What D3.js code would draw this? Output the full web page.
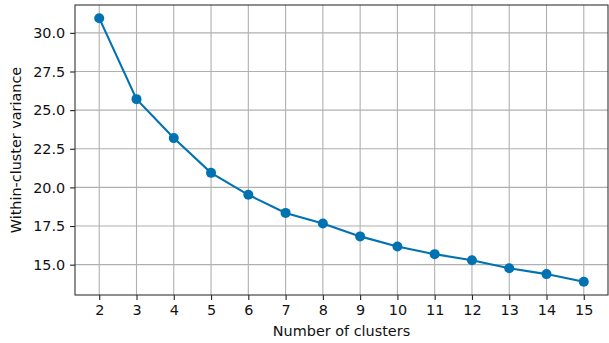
<!DOCTYPE html>
<html>
<head>
<meta charset="utf-8">
<script src="https://cdn.jsdelivr.net/npm/d3@7"></script>
<style>
  body { margin: 0; background: #fff; }
  svg { display: block; font-family: "DejaVu Sans", sans-serif; }
</style>
</head>
<body>
<svg id="chart" width="609" height="343"></svg>
<script>
// data
const clusters = [2, 3, 4, 5, 6, 7, 8, 9, 10, 11, 12, 13, 14, 15];
const variance = [30.95, 25.71, 23.19, 20.94, 19.52, 18.35, 17.66, 16.83, 16.18, 15.68, 15.29, 14.77, 14.39, 13.89];
const yTicks = [15.0, 17.5, 20.0, 22.5, 25.0, 27.5, 30.0];

const margin = { top: 5, right: 1, bottom: 48, left: 75 };
const svg = d3.select('#chart');
const width = +svg.attr('width') - margin.left - margin.right;
const height = +svg.attr('height') - margin.top - margin.bottom;
const color = '#0072b2';
const fontSize = '14.4px';

// matplotlib-style 5% margins
const xPad = (d3.max(clusters) - d3.min(clusters)) * 0.05;
const [yMin, yMax] = d3.extent(variance);
const yPad = (yMax - yMin) * 0.05;
const x = d3.scaleLinear().domain([d3.min(clusters) - xPad, d3.max(clusters) + xPad]).range([0, width]);
const y = d3.scaleLinear().domain([yMin - yPad, yMax + yPad]).range([height, 0]);

const g = svg.append('g').attr('transform', `translate(${margin.left}, ${margin.top})`);

// grid
g.append('g').selectAll('line').data(clusters).enter().append('line')
  .attr('x1', d => x(d)).attr('x2', d => x(d))
  .attr('y1', 0).attr('y2', height)
  .attr('stroke', '#b0b0b0').attr('stroke-width', 1.1);
g.append('g').selectAll('line').data(yTicks).enter().append('line')
  .attr('x1', 0).attr('x2', width)
  .attr('y1', d => y(d)).attr('y2', d => y(d))
  .attr('stroke', '#b0b0b0').attr('stroke-width', 1.1);

// axes
const xAxis = g.append('g')
  .attr('transform', `translate(0, ${height})`)
  .call(d3.axisBottom(x).tickValues(clusters).tickFormat(d3.format('d')).tickSize(4.9).tickPadding(4.9));
const yAxis = g.append('g')
  .call(d3.axisLeft(y).tickValues(yTicks).tickFormat(d3.format('.1f')).tickSize(4.9).tickPadding(4.9));
[xAxis, yAxis].forEach(a => {
  a.select('.domain').remove();
  a.selectAll('.tick line').attr('stroke', '#222').attr('stroke-width', 1.1);
  a.selectAll('.tick text').attr('fill', '#111').style('font-size', fontSize).style('font-family', '"DejaVu Sans", sans-serif');
});

// line + markers
g.append('path')
  .datum(clusters.map((c, i) => [c, variance[i]]))
  .attr('fill', 'none')
  .attr('stroke', color)
  .attr('stroke-width', 2.1)
  .attr('d', d3.line().x(d => x(d[0])).y(d => y(d[1])));
g.append('g').selectAll('circle').data(clusters).enter().append('circle')
  .attr('cx', d => x(d))
  .attr('cy', (d, i) => y(variance[i]))
  .attr('r', 5)
  .attr('fill', color);

// frame
g.append('rect')
  .attr('width', width).attr('height', height)
  .attr('fill', 'none').attr('stroke', '#333').attr('stroke-width', 1.1);

// labels
svg.append('text')
  .attr('x', margin.left + width / 2).attr('y', 336)
  .attr('text-anchor', 'middle')
  .style('font-size', fontSize).attr('fill', '#111')
  .text('Number of clusters');
svg.append('text')
  .attr('transform', `translate(21, ${margin.top + height / 2}) rotate(-90)`)
  .attr('text-anchor', 'middle')
  .style('font-size', fontSize).attr('fill', '#111')
  .text('Within-cluster variance');
</script>
</body>
</html>
